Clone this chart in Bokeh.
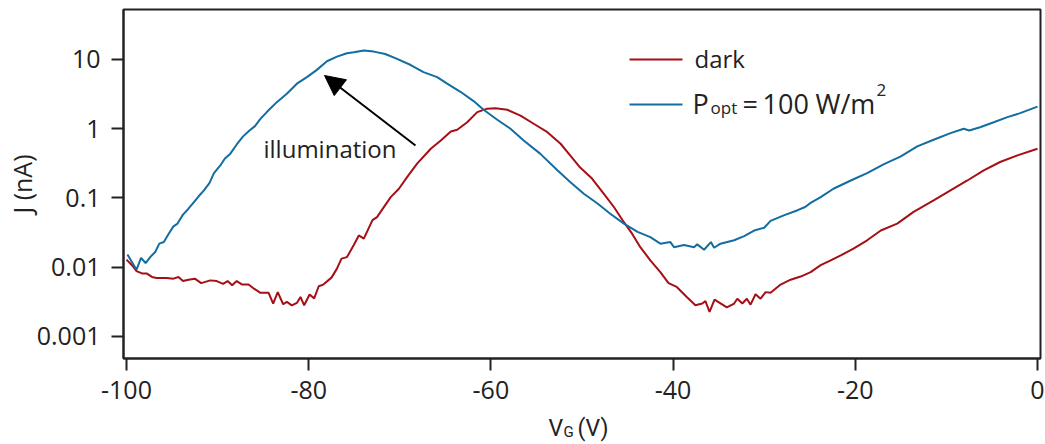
import math
from bokeh.plotting import figure
from bokeh.layouts import column
from bokeh.models import (FixedTicker, CustomJSTickFormatter, Label, Arrow,
                          NormalHead)
from bokeh.embed import file_html
from bokeh.resources import INLINE

# ---------------- data ----------------
vg_light = [-99.9, -98.9, -98.4, -97.9, -97.4, -96.85, -96.4, -95.9, -95.4, -94.85,
            -94.4, -93.8, -93.2, -92.6, -92.1, -91.5, -90.9, -90.4, -89.7, -89.2,
            -88.6, -87.9, -87.2, -86.5, -85.9, -85.3, -84.6, -83.5, -82.4, -81.3,
            -80.2, -79.1, -78.0, -76.9, -75.8, -75.05, -73.95, -72.85, -71.6, -70.3,
            -68.8, -67.4, -65.9, -64.8, -63.3, -61.9, -60.8, -59.3, -57.85, -56.4,
            -54.6, -52.7, -51.3, -49.8, -48.3, -46.9, -45.4, -43.9, -42.5, -41.4,
            -40.3, -39.9, -38.8, -37.7, -37.35, -36.6, -35.85, -35.5, -34.8, -33.3,
            -32.2, -31.1, -30.0, -29.3, -27.85, -26.4, -25.5, -24.9, -23.8, -22.4,
            -20.5, -18.7, -16.9, -15.0, -13.2, -11.4, -9.55, -8.1, -7.5, -6.3,
            -4.8, -3.3, -1.9, 0.0]
j_light = [0.0153, 0.00923, 0.0136, 0.0115, 0.0140, 0.0166, 0.0219, 0.0231, 0.0299, 0.0389,
           0.0427, 0.0575, 0.0700, 0.0871, 0.105, 0.129, 0.164, 0.229, 0.295, 0.372,
           0.437, 0.593, 0.776, 0.944, 1.09, 1.39, 1.74, 2.42, 3.20, 4.47,
           5.56, 7.08, 9.44, 11.0, 12.3, 12.7, 13.5, 13.0, 12.0, 10.2,
           8.32, 6.56, 5.56, 4.47, 3.39, 2.51, 1.88, 1.35, 1.00, 0.678,
           0.437, 0.251, 0.170, 0.115, 0.0832, 0.0593, 0.0427, 0.0324, 0.0272, 0.0219,
           0.0231, 0.0195, 0.0209, 0.0195, 0.0214, 0.0179, 0.0231, 0.0191, 0.0219, 0.0245,
           0.0282, 0.0339, 0.0372, 0.0468, 0.0562, 0.0661, 0.0741, 0.0851, 0.103, 0.136,
           0.179, 0.229, 0.305, 0.398, 0.556, 0.693, 0.865, 1.00, 0.944, 1.05,
           1.24, 1.47, 1.68, 2.09]

vg_dark = [-100.0, -99.4, -98.9, -98.3, -97.8, -97.2, -96.7, -95.6, -94.85, -94.3,
           -93.8, -93.2, -92.5, -91.8, -90.8, -90.1, -89.4, -88.9, -88.4, -87.9,
           -87.3, -86.6, -86.0, -85.3, -84.4, -83.9, -83.4, -82.8, -82.4, -81.85,
           -81.3, -80.9, -80.5, -79.9, -79.4, -78.9, -78.4, -77.5, -76.9, -76.4,
           -75.8, -75.05, -74.5, -73.95, -73.0, -72.5, -71.0, -70.1, -69.2, -68.1,
           -66.6, -65.5, -64.4, -63.7, -62.6, -61.5, -60.4, -59.5, -58.2, -56.75,
           -55.3, -53.8, -52.35, -51.3, -50.2, -48.9, -47.6, -46.5, -45.4, -44.5,
           -43.6, -42.5, -41.4, -40.5, -39.6, -38.5, -37.55, -36.8, -36.45, -36.0,
           -35.45, -34.1, -33.3, -32.95, -32.4, -31.9, -31.5, -30.95, -30.4, -29.85,
           -29.3, -28.2, -27.1, -26.0, -24.9, -23.8, -22.7, -21.6, -20.2, -18.7,
           -17.2, -15.4, -13.6, -11.4, -9.55, -7.7, -5.9, -4.1, -2.2, 0.0]
j_dark = [0.0129, 0.0107, 0.00881, 0.00813, 0.00813, 0.00724, 0.00700, 0.00700, 0.00684, 0.00724,
          0.00631, 0.00661, 0.00684, 0.00589, 0.00646, 0.00631, 0.00575, 0.00631, 0.00550, 0.00631,
          0.00562, 0.00562, 0.00490, 0.00427, 0.00427, 0.00299, 0.00437, 0.00292, 0.00316, 0.00282,
          0.00305, 0.00372, 0.00282, 0.00403, 0.00355, 0.00531, 0.00562, 0.00708, 0.00955, 0.0133,
          0.0140, 0.0209, 0.0288, 0.0259, 0.0479, 0.0530, 0.103, 0.136, 0.200, 0.313,
          0.514, 0.678, 0.912, 0.966, 1.24, 1.74, 1.95, 1.98, 1.88, 1.55,
          1.18, 0.893, 0.607, 0.412, 0.275, 0.191, 0.115, 0.0741, 0.0447, 0.0305,
          0.0195, 0.0126, 0.00851, 0.00589, 0.00519, 0.00372, 0.00282, 0.00299, 0.00324, 0.00226,
          0.00341, 0.00263, 0.00299, 0.00351, 0.00299, 0.00351, 0.00288, 0.00407, 0.00351, 0.00437,
          0.00427, 0.00562, 0.00661, 0.00733, 0.00851, 0.0107, 0.0126, 0.0148, 0.0186, 0.0245,
          0.0339, 0.0427, 0.0631, 0.0923, 0.129, 0.179, 0.251, 0.331, 0.412, 0.514]

x_ticks = [-100, -80, -60, -40, -20, 0]
y_ticks = [0.001, 0.01, 0.1, 1, 10]
series_labels = ["dark", "illumination"]

# ---------------- layout / style ----------------
FONT = "Open Sans"
TFONT = "Roboto"
TXT = "#222222"
RED = "#a50f15"
BLUE = "#136da0"
W, H1, H2 = 1045, 415, 29
FL, FR, FT, FB = 123, 1040, 9, 358     # frame edges in page px
XMIN, XMAX = -100.33, 0.33
LYMAX, LYMIN = 1.722, -3.318
DY = 9   # label baseline correction (px)

def px2x(px):   # page x -> data x
    return XMIN + (px - FL) / (FR - FL) * (XMAX - XMIN)

def py2y(py):   # page y -> data y (log axis)
    return 10 ** (LYMAX - (py - FT) / (FB - FT) * (LYMAX - LYMIN))

p = figure(width=W, height=H1, y_axis_type="log",
           x_range=(XMIN, XMAX), y_range=(10 ** LYMIN, 10 ** LYMAX),
           output_backend="svg", toolbar_location=None,
           min_border_left=FL, min_border_right=W - FR,
           min_border_top=FT, min_border_bottom=H1 - FB)
p.xgrid.visible = False
p.ygrid.visible = False
p.background_fill_color = "white"
p.border_fill_color = "white"
p.outline_line_color = TXT
p.outline_line_width = 2

fmt = CustomJSTickFormatter(code="return tick.toString();")
for ax, ticks in ((p.xaxis[0], x_ticks), (p.yaxis[0], y_ticks)):
    ax.ticker = FixedTicker(ticks=ticks, minor_ticks=[])
    ax.formatter = fmt
    ax.axis_line_color = TXT
    ax.axis_line_width = 2
    ax.major_tick_line_color = TXT
    ax.major_tick_line_width = 2
    ax.major_tick_out = 12
    ax.major_tick_in = 0
    ax.minor_tick_line_color = None
    ax.major_label_text_font = FONT
    ax.major_label_text_font_size = "25px"
    ax.major_label_text_color = TXT

p.yaxis.major_label_standoff = 11
p.xaxis.major_label_standoff = 10
p.yaxis.axis_label = "J (nA)"
p.yaxis.axis_label_text_font = FONT
p.yaxis.axis_label_text_font_size = "25px"
p.yaxis.axis_label_text_font_style = "normal"
p.yaxis.axis_label_text_color = TXT
p.yaxis.axis_label_standoff = -5

p.line(vg_dark, j_dark, line_color=RED, line_width=2)
p.line(vg_light, j_light, line_color=BLUE, line_width=2)

def lab(fig, text, x, y, size="24px", font=FONT, **kw):
    opts = dict(text_baseline="alphabetic", text_align="left")
    opts.update(kw)
    fig.add_layout(Label(x=x, y=y, text=text, text_font=font,
                         text_font_size=size, text_color=TXT, **opts))

def plab(text, px, py, size="24px"):
    lab(p, text, px2x(px), py2y(py - DY), size=size)

# annotation arrow + text
p.add_layout(Arrow(x_start=px2x(415), y_start=py2y(145),
                   x_end=px2x(324), y_end=py2y(75),
                   line_color="black", line_width=2,
                   end=NormalHead(size=20, fill_color="black", line_color="black")))
plab("illumination", 263, 157)

# legend
p.segment(x0=[px2x(629)] * 2, x1=[px2x(682)] * 2, y0=[py2y(59), py2y(104)],
          y1=[py2y(59), py2y(104)], line_color=[RED, BLUE], line_width=2)
plab(series_labels[0], 694, 67)
plab("P", 692, 112, size="27px")
plab("opt", 710, 116, size="17px")
plab("=", 742, 112, size="27px")
plab("100", 762, 112, size="27px")
plab("W/m", 815, 112, size="27px")
plab("2", 876, 98, size="17px")

# x-axis title strip (V_G with subscript) below the plot; its frame is
# aligned with the main frame by the column layout (page x FL..FR)
p2 = figure(width=W, height=H2, x_range=(FL, FR), y_range=(H1 + H2, H1),
            output_backend="svg", toolbar_location=None,
            x_axis_location=None, y_axis_location=None,
            min_border_left=FL, min_border_right=W - FR, min_border_top=0,
            min_border_bottom=0)
p2.outline_line_color = None
p2.xgrid.visible = False
p2.ygrid.visible = False
p2.background_fill_color = "white"
p2.border_fill_color = "white"
lab(p2, "V", 548, 437.3 - DY, size="23px", font=TFONT)
lab(p2, "G", 563, 440 - DY, size="15px", font=TFONT)
lab(p2, "(V)", 577, 437.3 - DY, size="23px", font=TFONT)

layout = column(p, p2, spacing=0)
open("out.html", "w").write(file_html(layout, INLINE))
